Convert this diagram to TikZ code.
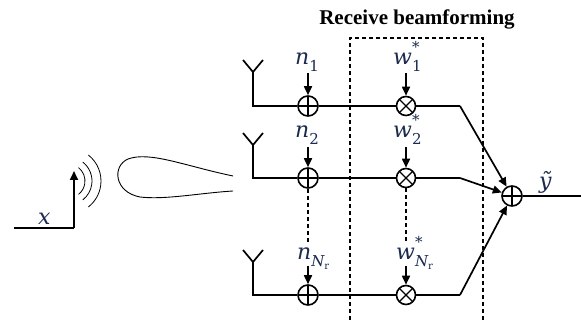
\documentclass[tikz,border=0pt]{standalone}
\usepackage{fontspec}
\setmainfont{Liberation Serif}
\newfontfamily\symfont{DejaVu Serif}
\usetikzlibrary{arrows.meta}
\definecolor{lbl}{HTML}{1B2A4E}
% italic symbol with an upright index below and an optional mark above
\newcommand\idx[1]{{\fontsize{15}{15}\selectfont\upshape #1}}
\newcommand\lsub[2]{\itshape #1\raisebox{-0.28em}{\idx{#2}}}
\newcommand\lsubsup[3]{\itshape #1\rlap{\raisebox{0.55em}{\idx{#3}}}\raisebox{-0.28em}{\idx{#2}}}
\newcommand\Nr{{\itshape N}\raisebox{-0.22em}{\fontsize{10}{10}\selectfont\upshape r}}
\begin{document}
\begin{tikzpicture}[x=1pt,y=-1pt,
  wire/.style={line width=1.7pt},
  tip/.style={wire,-{Triangle[length=9pt,width=8pt]}},
  adder/.style={circle,draw,line width=1.6pt,minimum size=20pt,inner sep=0pt,
    path picture={\draw[line width=1.3pt]
      (path picture bounding box.north) -- (path picture bounding box.south)
      (path picture bounding box.west) -- (path picture bounding box.east);}},
  mixer/.style={circle,draw,line width=1.6pt,minimum size=19pt,inner sep=0pt,
    path picture={\draw[line width=1.3pt]
      (path picture bounding box.north west) -- (path picture bounding box.south east)
      (path picture bounding box.north east) -- (path picture bounding box.south west);}},
  sym/.style={text=lbl,font=\symfont\fontsize{22}{24}\selectfont,inner sep=0pt,anchor=base west},
  guide/.style={line width=1.1pt,dash pattern=on 4pt off 3pt}]
\useasboundingbox (0,0) rectangle (581,320);

% title and receive-combining box
\node[font=\fontsize{21}{24}\selectfont\bfseries] (title) at (417,19) {Receive beamforming};
\draw[guide] (350,320) -- (350,38) -- (483,38) -- (483,320);

% transmitter
\coordinate (tx0) at (14,228);
\coordinate (txc) at (74,228);
\coordinate (txt) at (74,171);
\draw[wire] (tx0) -- (txc);
\draw[tip] (txc) -- (txt);
\node[sym] (x) at (38,225) {\itshape x};
\foreach \r in {17,24,33}
  \draw[line width=0.8pt] (68,181) ++(-52:\r) arc[start angle=-52,end angle=52,radius=\r];

% beam lobe
\draw[line width=0.9pt] (233,176) .. controls (185,166) and (150,151) .. (128,159)
  .. controls (112,166) and (114,192) .. (140,197)
  .. controls (165,200) and (200,193) .. (233,191);

% receive chains
\foreach \i/\y/\v/\t in {1/106/72/60, 2/178/145/133, 3/295/262/250} {
  \coordinate (a\i) at (253,\v);
  \draw[wire] (243,\t) -- (a\i) -- (263,\t);
  \node[adder] (add\i) at (308,\y) {};
  \node[mixer] (mul\i) at (406,\y) {};
  \coordinate (k\i) at (460,\y);
  \draw[wire] (a\i) |- (add\i) -- (mul\i) -- (k\i);
}

\node[adder] (sum) at (512,196) {};
\coordinate (out) at (581,196);
\draw[wire] (sum) -- (out);
\node[sym] (y) at (539,189) {\itshape ỹ};

\foreach \i in {1,2,3} \draw[tip] (k\i) -- (sum);

% noise and weight inputs
\node[sym] (n1) at (295,65) {\lsub{n}{1}};
\node[sym] (n2) at (295,138) {\lsub{n}{2}};
\node[sym] (n3) at (297,260) {\lsub{n}{\Nr}};
\node[sym] (w1) at (393,65) {\lsubsup{w}{1}{*}};
\node[sym] (w2) at (393,138) {\lsubsup{w}{2}{*}};
\node[sym] (w3) at (396,260) {\lsubsup{w}{\Nr}{*}};

\foreach \i/\s in {1/73,2/147,3/266} {
  \draw[tip] (308,\s) -- (add\i);
  \draw[tip] (406,\s) -- (mul\i);
}

\draw[guide] (add2) -- (308,243);
\draw[guide] (mul2) -- (406,243);
\end{tikzpicture}
\end{document}
